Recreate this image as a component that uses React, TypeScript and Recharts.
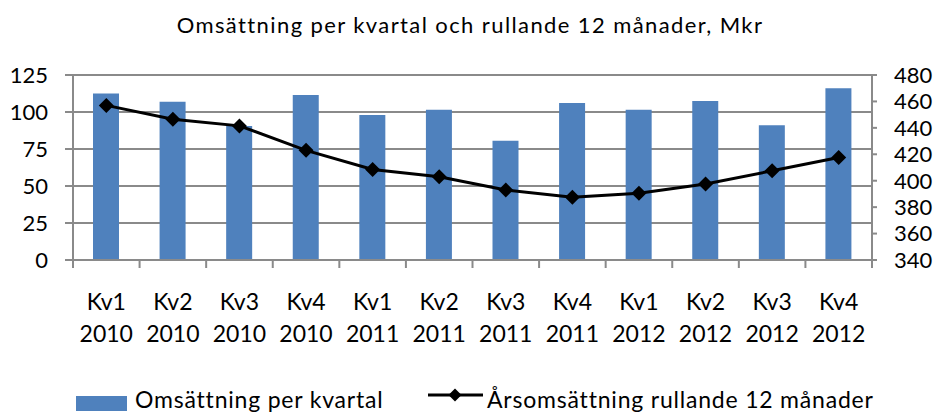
import React from 'react';
import { ComposedChart, Bar, Line, XAxis, YAxis, CartesianGrid, Legend } from 'recharts';

const quarters = ['Kv1', 'Kv2', 'Kv3', 'Kv4', 'Kv1', 'Kv2', 'Kv3', 'Kv4', 'Kv1', 'Kv2', 'Kv3', 'Kv4'];
const years = ['2010', '2010', '2010', '2010', '2011', '2011', '2011', '2011', '2012', '2012', '2012', '2012'];
const quarterlySales = [112.5, 107, 90.5, 111.5, 98, 101.5, 80.5, 106, 101.5, 107.5, 91, 116];
const rolling12 = [457, 446.5, 441.5, 423, 408.5, 403, 393, 387.5, 390.5, 397.5, 407.5, 417.5];
const leftTicks = [0, 25, 50, 75, 100, 125];
const rightTicks = [340, 360, 380, 400, 420, 440, 460, 480];

const title = 'Omsättning per kvartal och rullande 12 månader, Mkr';
const barName = 'Omsättning per kvartal';
const lineName = 'Årsomsättning rullande 12 månader';

const data = quarters.map((q, i) => ({
  label: q + '\n' + years[i],
  q,
  year: years[i],
  sales: quarterlySales[i],
  rolling: rolling12[i],
}));

const FONT = 'Lato, "Open Sans", sans-serif';
const GRID = '#8a8a8a';
const BAR = '#4F81BD';

const XTick = (props: any) => {
  const { x, y, payload, index } = props;
  const half = payload && payload.offset ? payload.offset : 33.3;
  const d = data[index] || { q: '', year: '' };
  const isLast = index === data.length - 1;
  return (
    <g>
      <line x1={x - half} y1={y} x2={x - half} y2={y + 8} stroke={GRID} strokeWidth={2} />
      {isLast && <line x1={x + half} y1={y} x2={x + half} y2={y + 8} stroke={GRID} strokeWidth={2} />}
      <text x={x} y={y + 50} textAnchor="middle" fontFamily={FONT} fontSize={23} fill="#000">{d.q}</text>
      <text x={x} y={y + 82} textAnchor="middle" fontFamily={FONT} fontSize={23} fill="#000">{d.year}</text>
    </g>
  );
};

const Diamond = (props: any) => {
  const { cx, cy } = props;
  if (cx == null || cy == null) return null;
  const r = 7.5;
  return <polygon points={`${cx},${cy - r} ${cx + r},${cy} ${cx},${cy + r} ${cx - r},${cy}`} fill="#000" />;
};

const LegendContent = () => (
  <svg width={936} height={44} style={{ display: 'block' }}>
    <rect x={76} y={26} width={51} height={15} fill={BAR} />
    <text x={135} y={38} fontFamily={FONT} fontSize={23} letterSpacing={0.8} fill="#000">{barName}</text>
    <line x1={428} y1={25} x2={483} y2={25} stroke="#000" strokeWidth={3} />
    <polygon points="455,18.5 461.5,25 455,31.5 448.5,25" fill="#000" />
    <text x={487} y={38} fontFamily={FONT} fontSize={23} letterSpacing={0.8} fill="#000">{lineName}</text>
  </svg>
);

export default function App() {
  return (
    <div style={{ position: 'absolute', left: 0, top: 0, width: 936, height: 414, background: '#fff' }}>
      <svg width={936} height={50} style={{ position: 'absolute', left: 0, top: 0 }}>
        <text x={470} y={33} textAnchor="middle" fontFamily={FONT} fontSize={22} letterSpacing={1.4} fill="#000">{title}</text>
      </svg>
      <ComposedChart
        width={936}
        height={414}
        data={data}
        margin={{ top: 75, right: 0, bottom: 0, left: 0 }}
        barSize={26}
      >
        <CartesianGrid yAxisId="left" vertical={false} stroke={GRID} strokeWidth={2} />
        <XAxis
          dataKey="label"
          height={110}
          interval={0}
          tick={<XTick />}
          tickLine={false}
          tickSize={0}
          tickMargin={0}
          axisLine={{ stroke: GRID, strokeWidth: 2 }}
        />
        <YAxis
          yAxisId="left"
          orientation="left"
          width={73}
          domain={[0, 125]}
          ticks={leftTicks}
          interval={0}
          tickSize={8}
          tickMargin={17}
          tickLine={{ stroke: GRID, strokeWidth: 2 }}
          axisLine={{ stroke: GRID, strokeWidth: 2 }}
          tick={{ fontFamily: FONT, fontSize: 22, fill: '#000' }}
        />
        <YAxis
          yAxisId="right"
          orientation="right"
          width={64}
          domain={[340, 480]}
          ticks={rightTicks}
          interval={0}
          tickSize={5}
          tickMargin={17}
          tickLine={{ stroke: GRID, strokeWidth: 2 }}
          axisLine={{ stroke: GRID, strokeWidth: 2 }}
          tick={{ fontFamily: FONT, fontSize: 22, fill: '#000', textAnchor: 'start' }}
        />
        <Bar yAxisId="left" dataKey="sales" name={barName} fill={BAR} isAnimationActive={false} />
        <Line
          yAxisId="right"
          dataKey="rolling"
          name={lineName}
          stroke="#000"
          strokeWidth={3}
          dot={<Diamond />}
          activeDot={false}
          isAnimationActive={false}
        />
        <Legend
          verticalAlign="bottom"
          height={44}
          wrapperStyle={{ left: 0, width: 936, height: 44 }}
          content={<LegendContent />}
        />
      </ComposedChart>
    </div>
  );
}
